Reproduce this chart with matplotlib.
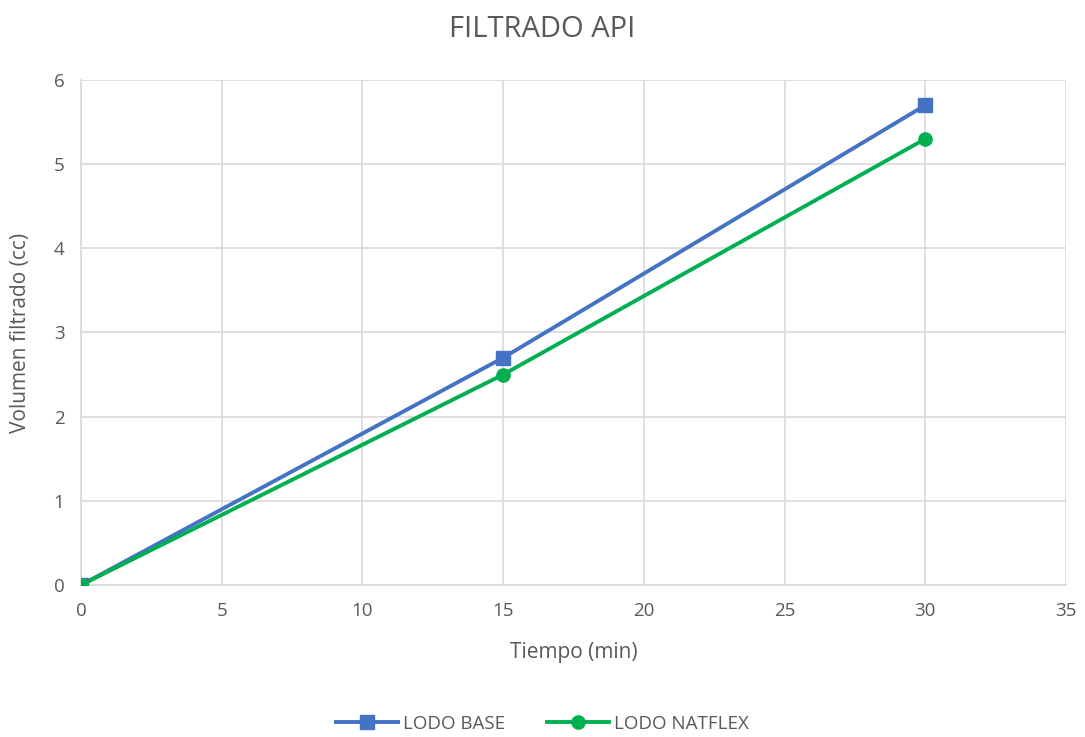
import matplotlib
matplotlib.use("Agg")
import matplotlib.pyplot as plt

tiempo = [0, 15, 30]
lodo_base = [0, 2.7, 5.7]
lodo_natflex = [0, 2.5, 5.3]
x_ticks = [0, 5, 10, 15, 20, 25, 30, 35]
y_ticks = [0, 1, 2, 3, 4, 5, 6]

text_color = "#595959"
grid_color = "#D9D9D9"
plt.rcParams["font.family"] = ["Open Sans", "DejaVu Sans"]

fig = plt.figure(figsize=(10.85, 7.37), dpi=100)
ax = fig.add_axes([0.0747, 0.2062, 0.9078, 0.6853])

ax.plot(tiempo, lodo_base, color="#4472C4", linewidth=2.8, marker="s",
        markersize=9.5, label="LODO BASE", zorder=3)
ax.plot(tiempo, lodo_natflex, color="#00B050", linewidth=2.8, marker="o",
        markersize=9.5, label="LODO NATFLEX", zorder=3)

ax.set_xlim(0, 35)
ax.set_ylim(0, 6)
ax.set_xticks(x_ticks)
ax.set_yticks(y_ticks)
ax.grid(True, color=grid_color, linewidth=1.2)
ax.set_axisbelow(True)
for side in ["top", "right"]:
    ax.spines[side].set_visible(False)
for side in ["left", "bottom"]:
    ax.spines[side].set_color(grid_color)
    ax.spines[side].set_linewidth(1.2)
ax.tick_params(length=0, labelsize=13.5, colors=text_color, pad=12)

ax.set_xlabel("Tiempo (min)", fontsize=15, color=text_color, labelpad=16)
ax.set_ylabel("Volumen filtrado (cc)", fontsize=15, color=text_color, labelpad=16)
fig.suptitle("FILTRADO API", fontsize=21, color=text_color, y=0.98)

# legend centred on the whole figure, like the spreadsheet chart
handles, labels = ax.get_legend_handles_labels()
fig.legend(handles, labels, loc="center", bbox_to_anchor=(0.5, 0.018), ncol=2,
           frameon=False, fontsize=13.5, labelcolor=text_color,
           handlelength=3.3, handletextpad=0.3, columnspacing=2.2)

fig.savefig("out.png", dpi=100)
